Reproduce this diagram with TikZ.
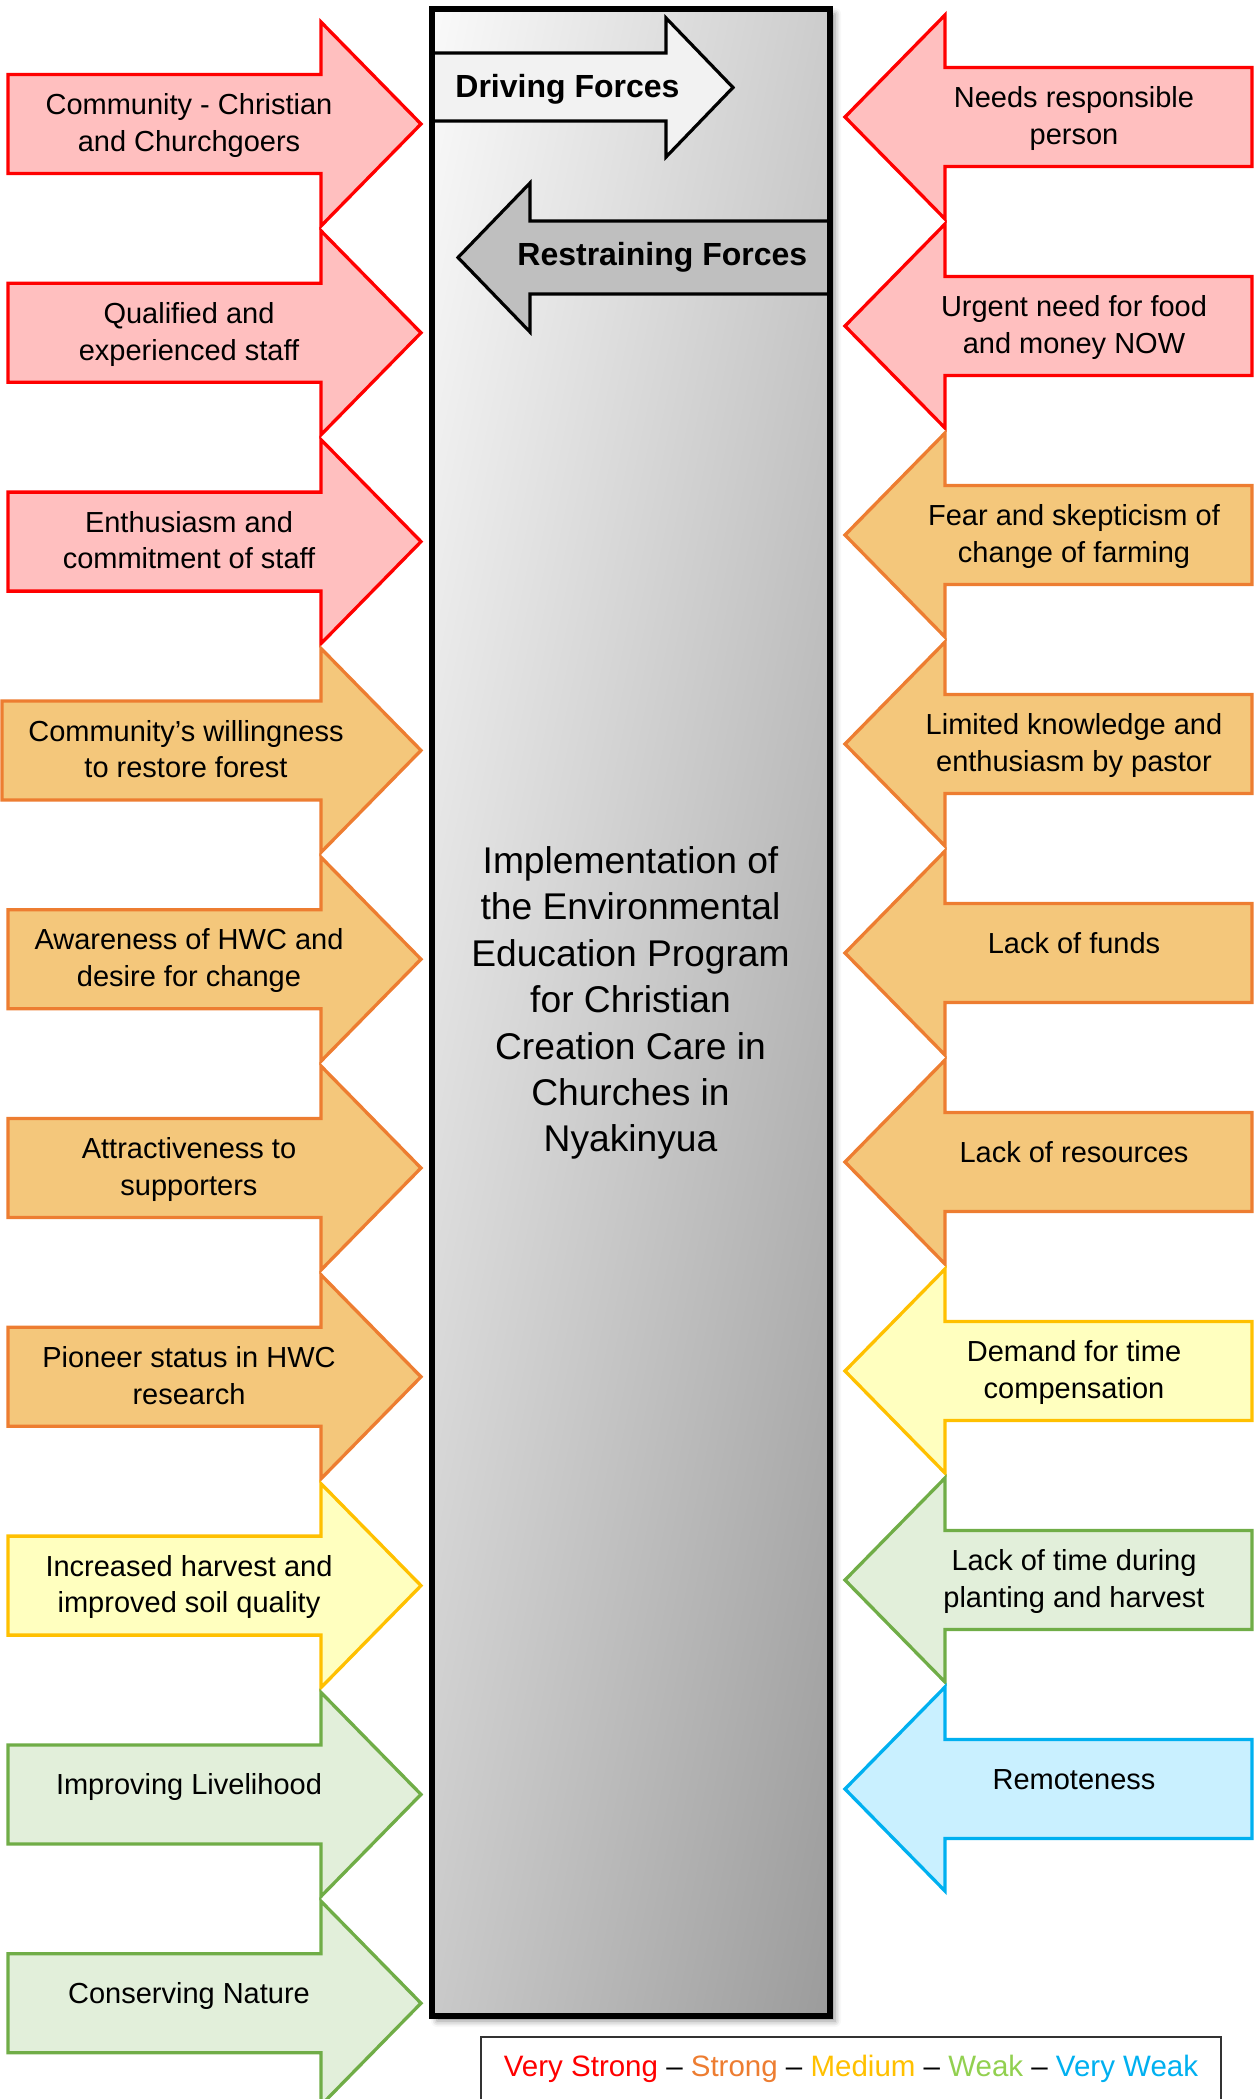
\documentclass[tikz,border=0pt]{standalone}
\usepackage{fontspec}
\setmainfont{Liberation Sans}
\usetikzlibrary{shadows.blur}

% light-to-dark diagonal grey for the central panel
% (x,y in the panel's 25bp..75bp window; light top-left, dark bottom-right)
\pgfdeclarefunctionalshading{panelgrad}{\pgfpoint{0bp}{0bp}}{\pgfpoint{100bp}{100bp}}{}{
  25 sub 50 div 0.19 mul exch 25 sub 50 div -0.18 mul add 0.79 add dup dup
}

\definecolor{vsE}{HTML}{FF0000}\definecolor{vsF}{HTML}{FFBFBF}
\definecolor{stE}{HTML}{ED7D31}\definecolor{stF}{HTML}{F4C77B}
\definecolor{meE}{HTML}{FFC000}\definecolor{meF}{HTML}{FFFFBF}
\definecolor{wkE}{HTML}{70AD47}\definecolor{wkF}{HTML}{E2EFDA}
\definecolor{vwE}{HTML}{00B0F0}\definecolor{vwF}{HTML}{C9F0FF}
\definecolor{legG}{HTML}{92D050}

% force arrow pointing right (driving side)
% #1 name, #2 centre y, #3 left x, #4 style, #5 label, #6 label shift
\newcommand\drivearrow[6]{%
  \draw[#4] (#3,#2-49.5) -- (321,#2-49.5) -- (321,#2-102) -- (421,#2)
    -- (321,#2+102) -- (321,#2+49.5) -- (#3,#2+49.5) -- cycle;
  \node[lbl] (#1) at ({(#3+370)/2},#2+#6) {#5};
}
% force arrow pointing left (restraining side)
% #1 name, #2 centre y, #3 style, #4 label, #5 label shift
\newcommand\restrainarrow[5]{%
  \draw[#3] (1252,#2-49.5) -- (945,#2-49.5) -- (945,#2-102) -- (845,#2)
    -- (945,#2+102) -- (945,#2+49.5) -- (1252,#2+49.5) -- cycle;
  \node[lbl] (#1) at (1074,#2+#5) {#4};
}

\begin{document}
\begin{tikzpicture}[x=0.5pt,y=-0.5pt,
  lbl/.style={align=center,inner sep=0pt,font=\fontsize{14.5pt}{18.25pt}\selectfont,
    execute at begin node=\strut,execute at end node=\strut},
  forcebase/.style={line width=1.65pt,line join=miter},
  veryStrong/.style={forcebase,draw=vsE,fill=vsF},
  strongF/.style={forcebase,draw=stE,fill=stF},
  mediumF/.style={forcebase,draw=meE,fill=meF},
  weakF/.style={forcebase,draw=wkE,fill=wkF},
  veryWeak/.style={forcebase,draw=vwE,fill=vwF},
  headarrow/.style={draw=black,line width=1.6pt,line join=miter}]
\useasboundingbox (0,0) rectangle (1258,2099);

% central panel with soft shadow
\shade[shading=panelgrad,
  blur shadow={shadow xshift=2.5pt,shadow yshift=-2.5pt,shadow blur radius=3pt,shadow opacity=45}]
  (432,9) rectangle (830,2016);

% direction headers inside the panel
\draw[headarrow,fill=black!5] (432,53) -- (666,53) -- (666,18) -- (733,87.5)
  -- (666,157) -- (666,121) -- (432,121);
\node[anchor=base west,inner sep=0pt,font=\fontsize{16pt}{19pt}\selectfont\bfseries]
  (driving) at (455,97) {Driving Forces};
\draw[headarrow,fill=black!25] (830,221) -- (530,221) -- (530,183) -- (458,257.5)
  -- (530,332) -- (530,294) -- (830,294);
\node[anchor=base west,inner sep=0pt,font=\fontsize{16pt}{19pt}\selectfont\bfseries]
  (restraining) at (517,265) {Restraining Forces};

\draw[line width=3pt] (432,9) rectangle (830,2016);

\node[align=center,inner sep=0pt,font=\fontsize{18.6pt}{23.2pt}\selectfont]
  (goal) at (630.5,1003) {Implementation of\\the Environmental\\Education Program\\for Christian\\Creation Care in\\Churches in\\Nyakinyua};

% driving forces
\drivearrow{d1}{124}{8}{veryStrong}{Community - Christian\\and Churchgoers}{4}
\drivearrow{d2}{332.8}{8}{veryStrong}{Qualified and\\experienced staff}{4}
\drivearrow{d3}{541.6}{8}{veryStrong}{Enthusiasm and\\commitment of staff}{4}
\drivearrow{d4}{750.4}{2}{strongF}{Community’s willingness\\to restore forest}{4}
\drivearrow{d5}{959.2}{8}{strongF}{Awareness of HWC and\\desire for change}{4}
\drivearrow{d6}{1168}{8}{strongF}{Attractiveness to\\supporters}{4}
\drivearrow{d7}{1376.8}{8}{strongF}{Pioneer status in HWC\\research}{4}
\drivearrow{d8}{1585.6}{8}{mediumF}{Increased harvest and\\improved soil quality}{4}
\drivearrow{d9}{1794.4}{8}{weakF}{Improving Livelihood}{-7}
\drivearrow{d10}{2003.2}{8}{weakF}{Conserving Nature}{-7}

% restraining forces
\restrainarrow{r1}{117}{veryStrong}{Needs responsible\\person}{4}
\restrainarrow{r2}{326}{veryStrong}{Urgent need for food\\and money NOW}{4}
\restrainarrow{r3}{535}{strongF}{Fear and skepticism of\\change of farming}{4}
\restrainarrow{r4}{744}{strongF}{Limited knowledge and\\enthusiasm by pastor}{4}
\restrainarrow{r5}{953}{strongF}{Lack of funds}{-7}
\restrainarrow{r6}{1162}{strongF}{Lack of resources}{-7}
\restrainarrow{r7}{1371}{mediumF}{Demand for time\\compensation}{4}
\restrainarrow{r8}{1580}{weakF}{Lack of time during\\planting and harvest}{4}
\restrainarrow{r9}{1789}{veryWeak}{Remoteness}{-7}

% strength key
\draw[line width=0.75pt,black!80] (481,2037) rectangle (1221,2130);
\node[inner sep=0pt,font=\fontsize{14.75pt}{17pt}\selectfont] (key) at (851,2069)
  {\textcolor{vsE}{Very Strong} – \textcolor{stE}{Strong} – \textcolor{meE}{Medium} – \textcolor{legG}{Weak} – \textcolor{vwE}{Very Weak}};
\end{tikzpicture}
\end{document}
